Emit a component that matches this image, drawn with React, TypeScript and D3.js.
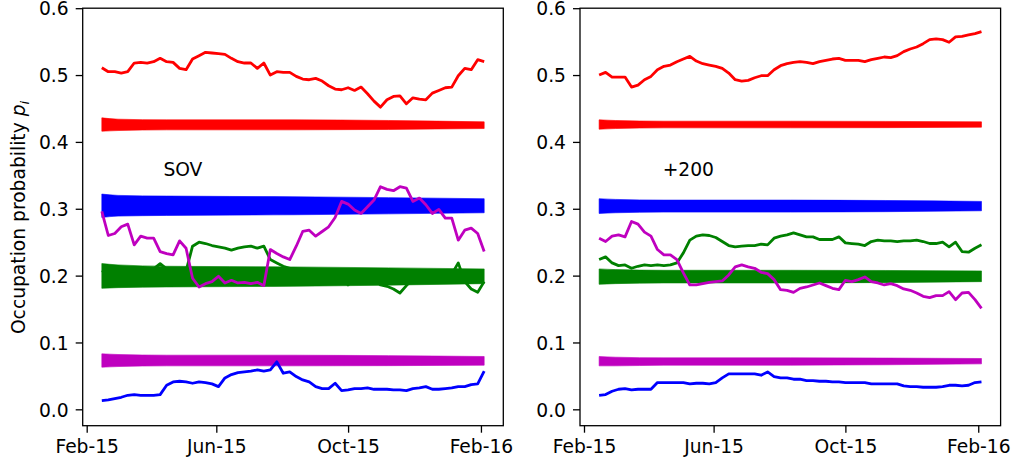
import React, { useRef, useEffect } from 'react'
import * as d3 from 'd3'

// sampling of the thin series: one value every 6 days from 15 Feb 2015
const startDate = new Date(Date.UTC(2015, 1, 15))
const stepDays = 6
const sampleCount = 60
const endDate = d3.utcDay.offset(startDate, stepDays * (sampleCount - 1))

// thick (noisy) series are given by their lower/upper edge at a few days
const bandDays = [0, 15, 60, 177, 354]

const yTicks = [0, 0.1, 0.2, 0.3, 0.4, 0.5, 0.6]
const xTicks = ['2015-02-01', '2015-06-01', '2015-10-01', '2016-02-01']

const panelLabels = ['SOV', '+200']

// left panel (SOV)
const leftRed = [
  0.511, 0.505, 0.505, 0.503, 0.505, 0.518, 0.519, 0.518, 0.52, 0.525,
  0.52, 0.519, 0.51, 0.508, 0.524, 0.529, 0.534, 0.533, 0.532, 0.531,
  0.525, 0.52, 0.518, 0.518, 0.51, 0.518, 0.5, 0.505, 0.504, 0.504,
  0.498, 0.494, 0.493, 0.495, 0.491, 0.484, 0.479, 0.478, 0.481, 0.477,
  0.482, 0.472, 0.461, 0.452, 0.463, 0.468, 0.469, 0.457, 0.466, 0.464,
  0.463, 0.473, 0.477, 0.481, 0.482, 0.499, 0.51, 0.508, 0.523, 0.52,
]
const leftBlue = [
  0.013, 0.014, 0.016, 0.018, 0.021, 0.022, 0.021, 0.021, 0.021, 0.022,
  0.036, 0.041, 0.042, 0.041, 0.039, 0.041, 0.04, 0.038, 0.034, 0.047,
  0.052, 0.055, 0.056, 0.057, 0.059, 0.057, 0.059, 0.071, 0.054, 0.056,
  0.049, 0.044, 0.041, 0.034, 0.031, 0.031, 0.039, 0.028, 0.029, 0.031,
  0.031, 0.032, 0.03, 0.03, 0.03, 0.029, 0.029, 0.028, 0.031, 0.032,
  0.034, 0.03, 0.03, 0.031, 0.032, 0.034, 0.034, 0.037, 0.038, 0.057,
]
const leftGreen = [
  0.205, 0.21, 0.208, 0.205, 0.207, 0.206, 0.205, 0.207, 0.21, 0.218,
  0.21, 0.206, 0.205, 0.207, 0.244, 0.25, 0.248, 0.245, 0.243, 0.241,
  0.238, 0.241, 0.243, 0.244, 0.241, 0.244, 0.224, 0.219, 0.214, 0.211,
  0.205, 0.204, 0.206, 0.203, 0.205, 0.204, 0.205, 0.2, 0.186, 0.2,
  0.202, 0.198, 0.195, 0.186, 0.184, 0.18, 0.174, 0.185, 0.195, 0.199,
  0.201, 0.203, 0.2, 0.198, 0.202, 0.219, 0.191, 0.18, 0.175, 0.191,
]
const leftMagenta = [
  0.296, 0.26, 0.263, 0.273, 0.277, 0.246, 0.259, 0.256, 0.256, 0.236,
  0.233, 0.231, 0.252, 0.241, 0.196, 0.183, 0.188, 0.191, 0.199, 0.189,
  0.193, 0.189, 0.19, 0.188, 0.19, 0.185, 0.239, 0.233, 0.228, 0.224,
  0.244, 0.266, 0.268, 0.259, 0.266, 0.273, 0.287, 0.311, 0.307, 0.298,
  0.293, 0.303, 0.313, 0.333, 0.329, 0.327, 0.333, 0.331, 0.311, 0.316,
  0.306, 0.293, 0.299, 0.286, 0.286, 0.253, 0.268, 0.271, 0.263, 0.236,
]
const leftRedBand = { lo: [0.416, 0.417, 0.418, 0.418, 0.42], hi: [0.436, 0.434, 0.433, 0.433, 0.43] }
const leftBlueBand = { lo: [0.287, 0.289, 0.29, 0.291, 0.294], hi: [0.322, 0.32, 0.319, 0.318, 0.315] }
const leftGreenBand = { lo: [0.181, 0.182, 0.183, 0.184, 0.188], hi: [0.218, 0.216, 0.214, 0.213, 0.21] }
const leftMagentaBand = { lo: [0.063, 0.064, 0.065, 0.065, 0.066], hi: [0.083, 0.082, 0.081, 0.081, 0.079] }

// right panel (+200)
const rightRed = [
  0.5, 0.504, 0.497, 0.497, 0.497, 0.482, 0.485, 0.493, 0.498, 0.508,
  0.513, 0.515, 0.52, 0.524, 0.528, 0.521, 0.517, 0.515, 0.513, 0.51,
  0.503, 0.493, 0.491, 0.492, 0.496, 0.499, 0.499, 0.508, 0.514, 0.517,
  0.519, 0.52, 0.519, 0.517, 0.52, 0.522, 0.524, 0.525, 0.522, 0.522,
  0.522, 0.52, 0.523, 0.525, 0.527, 0.526, 0.529, 0.535, 0.539, 0.542,
  0.547, 0.553, 0.554, 0.553, 0.549, 0.557, 0.558, 0.56, 0.562, 0.565,
]
const rightBlue = [
  0.021, 0.022, 0.027, 0.03, 0.031, 0.029, 0.03, 0.03, 0.03, 0.04,
  0.04, 0.04, 0.04, 0.04, 0.038, 0.039, 0.039, 0.038, 0.04, 0.047,
  0.053, 0.053, 0.053, 0.053, 0.053, 0.051, 0.056, 0.049, 0.047, 0.047,
  0.045, 0.045, 0.043, 0.043, 0.042, 0.042, 0.041, 0.041, 0.04, 0.04,
  0.04, 0.04, 0.038, 0.038, 0.038, 0.038, 0.038, 0.035, 0.034, 0.034,
  0.033, 0.033, 0.033, 0.034, 0.036, 0.036, 0.035, 0.036, 0.04, 0.041,
]
const rightGreen = [
  0.224, 0.228, 0.219, 0.215, 0.216, 0.211, 0.214, 0.216, 0.215, 0.216,
  0.215, 0.216, 0.219, 0.234, 0.253, 0.259, 0.261, 0.26, 0.257, 0.251,
  0.245, 0.243, 0.244, 0.245, 0.245, 0.247, 0.246, 0.256, 0.259, 0.261,
  0.264, 0.261, 0.258, 0.258, 0.254, 0.254, 0.254, 0.258, 0.249, 0.248,
  0.247, 0.245, 0.251, 0.253, 0.252, 0.252, 0.251, 0.252, 0.252, 0.253,
  0.251, 0.248, 0.248, 0.25, 0.243, 0.25, 0.236, 0.235, 0.241, 0.246,
]
const rightMagenta = [
  0.256, 0.251, 0.259, 0.261, 0.258, 0.281, 0.277, 0.265, 0.259, 0.239,
  0.231, 0.231, 0.224, 0.204, 0.186, 0.186, 0.188, 0.19, 0.191, 0.192,
  0.201, 0.213, 0.216, 0.213, 0.211, 0.205, 0.203, 0.194, 0.179, 0.178,
  0.175, 0.181, 0.183, 0.186, 0.189, 0.185, 0.181, 0.179, 0.193, 0.191,
  0.194, 0.198, 0.191, 0.189, 0.186, 0.188, 0.185, 0.18, 0.178, 0.174,
  0.169, 0.167, 0.17, 0.17, 0.176, 0.164, 0.174, 0.175, 0.164, 0.151,
]
const rightRedBand = { lo: [0.419, 0.42, 0.421, 0.421, 0.422], hi: [0.433, 0.432, 0.431, 0.431, 0.43] }
const rightBlueBand = { lo: [0.293, 0.294, 0.295, 0.295, 0.297], hi: [0.315, 0.314, 0.313, 0.313, 0.311] }
const rightGreenBand = { lo: [0.187, 0.188, 0.189, 0.189, 0.191], hi: [0.21, 0.209, 0.208, 0.208, 0.207] }
const rightMagentaBand = { lo: [0.065, 0.065, 0.066, 0.066, 0.068], hi: [0.079, 0.078, 0.077, 0.077, 0.076] }

const RED = '#ff0000'
const BLUE = '#0000ff'
const GREEN = '#008000'
const MAGENTA = '#bf00bf'

const panels = [
  {
    label: panelLabels[0],
    left: 82.7,
    bands: [
      [leftRedBand, RED],
      [leftBlueBand, BLUE],
      [leftGreenBand, GREEN],
      [leftMagentaBand, MAGENTA],
    ],
    lines: [
      [leftRed, RED],
      [leftBlue, BLUE],
      [leftGreen, GREEN],
      [leftMagenta, MAGENTA],
    ],
  },
  {
    label: panelLabels[1],
    left: 580,
    bands: [
      [rightRedBand, RED],
      [rightBlueBand, BLUE],
      [rightGreenBand, GREEN],
      [rightMagentaBand, MAGENTA],
    ],
    lines: [
      [rightRed, RED],
      [rightBlue, BLUE],
      [rightGreen, GREEN],
      [rightMagenta, MAGENTA],
    ],
  },
]

const W = 1016
const H = 467
const FONT = '"DejaVu Sans", sans-serif'
const FS = 18.7

const App = () => {
  const svgRef = useRef(null)

  useEffect(() => {
    const svg = d3.select(svgRef.current)
    svg.selectAll('*').remove()

    const top = 8.2
    const bottom = 425.7
    const plotW = 420.6

    const spanMs = endDate.getTime() - startDate.getTime()
    const xDomain = [
      new Date(startDate.getTime() - spanMs * 0.05),
      new Date(endDate.getTime() + spanMs * 0.05),
    ]
    const y = d3.scaleLinear().domain([-0.0245, 0.6]).range([bottom, top])
    const sampleDates = d3.range(sampleCount).map((i) => d3.utcDay.offset(startDate, i * stepDays))
    const bandDates = bandDays.map((d) => d3.utcDay.offset(startDate, d))

    panels.forEach((p) => {
      const x = d3.scaleUtc().domain(xDomain).range([p.left, p.left + plotW])
      const g = svg.append('g')

      // thick bands
      p.bands.forEach(([band, color]) => {
        const area = d3
          .area()
          .x((_, i) => x(bandDates[i]))
          .y0((_, i) => y(band.lo[i]))
          .y1((_, i) => y(band.hi[i]))
          .curve(d3.curveMonotoneX)
        g.append('path')
          .attr('d', area(bandDates))
          .attr('fill', color)
          .attr('stroke', color)
          .attr('stroke-width', 1)
          .attr('stroke-opacity', 0.6)
      })

      // thin lines
      p.lines.forEach(([values, color]) => {
        const line = d3
          .line()
          .x((_, i) => x(sampleDates[i]))
          .y((d) => y(d))
        g.append('path')
          .attr('d', line(values))
          .attr('fill', 'none')
          .attr('stroke', color)
          .attr('stroke-width', 2.8)
          .attr('stroke-linejoin', 'round')
      })

      // panel label
      g.append('text')
        .attr('x', x(new Date(Date.UTC(2015, 3, 13))) + (p.left > 100 ? 2 : 0))
        .attr('y', y(0.349))
        .attr('font-size', FS)
        .attr('font-family', FONT)
        .text(p.label)

      // frame
      g.append('rect')
        .attr('x', p.left)
        .attr('y', top)
        .attr('width', plotW)
        .attr('height', bottom - top)
        .attr('fill', 'none')
        .attr('stroke', '#000')
        .attr('stroke-width', 1.3)

      const yAxis = d3
        .axisLeft(y)
        .tickValues(yTicks)
        .tickSize(7)
        .tickPadding(7)
        .tickFormat(d3.format('.1f'))
      const ya = g.append('g').attr('transform', `translate(${p.left},0)`).call(yAxis)
      ya.select('.domain').remove()
      ya.selectAll('line').attr('stroke-width', 1.3)
      ya.selectAll('text')
        .attr('font-size', FS)
        .attr('font-family', FONT)
        .attr('fill', '#000')
        .attr('dy', '0.36em')

      const xAxis = d3
        .axisBottom(x)
        .tickValues(xTicks.map((s) => new Date(s + 'T00:00:00Z')))
        .tickSize(7)
        .tickPadding(7)
        .tickFormat(d3.utcFormat('%b-%y'))
      const xa = g.append('g').attr('transform', `translate(0,${bottom})`).call(xAxis)
      xa.select('.domain').remove()
      xa.selectAll('line').attr('stroke-width', 1.3)
      xa.selectAll('text')
        .attr('font-size', FS)
        .attr('font-family', FONT)
        .attr('fill', '#000')
    })

    // y label
    const yl = svg
      .append('text')
      .attr('transform', `translate(24.5,${(top + bottom) / 2 + 0.5}) rotate(-90)`)
      .attr('text-anchor', 'middle')
      .attr('font-size', FS)
      .attr('font-family', FONT)
    yl.append('tspan').text('Occupation probability ')
    yl.append('tspan').attr('font-style', 'italic').text('p')
    yl.append('tspan')
      .attr('font-style', 'italic')
      .attr('font-size', FS * 0.7)
      .attr('dy', 4)
      .text('i')
  }, [])

  return (
    <svg
      ref={svgRef}
      width={W}
      height={H}
      style={{ position: 'absolute', left: 0, top: 0, background: '#fff' }}
    />
  )
}

export default App
